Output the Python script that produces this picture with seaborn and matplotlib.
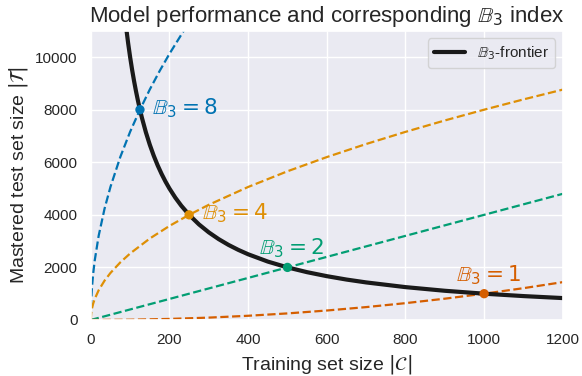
import numpy as np
import pandas as pd
import matplotlib.pyplot as plt
import seaborn as sns

# curves (training set size C -> mastered test set size T)
frontier_c = [85, 90, 95, 100, 105, 110, 115, 120, 125, 130, 140, 150, 160, 170,
              180, 190, 200, 215, 230, 250, 275, 300, 325, 350, 375, 400, 450,
              500, 550, 600, 650, 700, 800, 900, 1000, 1100, 1200]
frontier_t = [11765, 11111, 10526, 10000, 9524, 9091, 8696, 8333, 8000, 7692,
              7143, 6667, 6250, 5882, 5556, 5263, 5000, 4651, 4348, 4000, 3636,
              3333, 3077, 2857, 2667, 2500, 2222, 2000, 1818, 1667, 1538, 1429,
              1250, 1111, 1000, 909, 833]

b8_c = [0, 1, 3, 6, 10, 20, 35, 50, 75, 100, 125, 150, 175, 200, 240]
b8_t = [0, 716, 1240, 1754, 2264, 3202, 4236, 5063, 6201, 7160, 8000, 8769, 9472,
        10126, 11092]

b4_c = [0, 1, 3, 6, 10, 20, 35, 50, 75, 100, 150, 200, 250, 300, 400, 500, 600,
        700, 800, 900, 1000, 1100, 1200]
b4_t = [0, 253, 438, 620, 800, 1131, 1497, 1789, 2191, 2530, 3099, 3578, 4000,
        4382, 5060, 5657, 6197, 6694, 7156, 7590, 8000, 8391, 8764]

b2_c = [0, 500, 1200]
b2_t = [0, 2000, 4800]

b1_c = [0, 100, 200, 300, 400, 500, 600, 700, 800, 900, 1000, 1100, 1200]
b1_t = [0, 10, 40, 90, 160, 250, 360, 490, 640, 810, 1000, 1210, 1440]

# intersection points with the frontier
b3_values = [8, 4, 2, 1]
point_c = [125, 250, 500, 1000]
point_t = [8000, 4000, 2000, 1000]

sns.set_theme(style="darkgrid")
plt.rcParams['font.family'] = ['Liberation Sans', 'DejaVu Sans']
pal = sns.color_palette("colorblind")
colors = {8: pal[0], 4: pal[1], 2: pal[2], 1: pal[3]}

fig, ax = plt.subplots(figsize=(5.82, 3.76), dpi=100)
fig.subplots_adjust(left=0.156, right=0.967, top=0.918, bottom=0.149)

curves = {8: (b8_c, b8_t), 4: (b4_c, b4_t), 2: (b2_c, b2_t), 1: (b1_c, b1_t)}
for b, (cs, ts) in curves.items():
    df = pd.DataFrame({"C": cs, "T": ts})
    sns.lineplot(data=df, x="C", y="T", color=colors[b], linestyle="--",
                 linewidth=1.6, ax=ax)

df_front = pd.DataFrame({"C": frontier_c, "T": frontier_t})
sns.lineplot(data=df_front, x="C", y="T", color="#1a1a1a", linewidth=3,
             label=r"$\mathbb{B}_3$-frontier", ax=ax)

pts = pd.DataFrame({"C": point_c, "T": point_t, "B": b3_values})
sns.scatterplot(data=pts, x="C", y="T", hue="B", palette=colors, s=45,
                edgecolor="none", legend=False, ax=ax, zorder=5)

for b, c, t in zip(b3_values, point_c, point_t):
    txt = r"$\mathbb{B}_3 = %d$" % b
    if b in (8, 4):
        ax.annotate(txt, (c, t), xytext=(9, 1), textcoords="offset points",
                    ha="left", va="center", color=colors[b], fontsize=15.5)
    else:
        ax.annotate(txt, (c, t), xytext=(3, 5), textcoords="offset points",
                    ha="center", va="bottom", color=colors[b], fontsize=15.5)

ax.set_xlim(0, 1200)
ax.set_ylim(0, 11000)
ax.set_yticks([0, 2000, 4000, 6000, 8000, 10000])
ax.tick_params(labelsize=11)
ax.set_xlabel(r"Training set size $|\mathcal{C}|$", fontsize=14)
ax.set_ylabel(r"Mastered test set size $|\mathcal{T}|$", fontsize=14)
ax.set_title(r"Model performance and corresponding $\mathbb{B}_3$ index", fontsize=16)
ax.legend(loc="upper right", fontsize=11)

fig.savefig("out.png", dpi=100)
